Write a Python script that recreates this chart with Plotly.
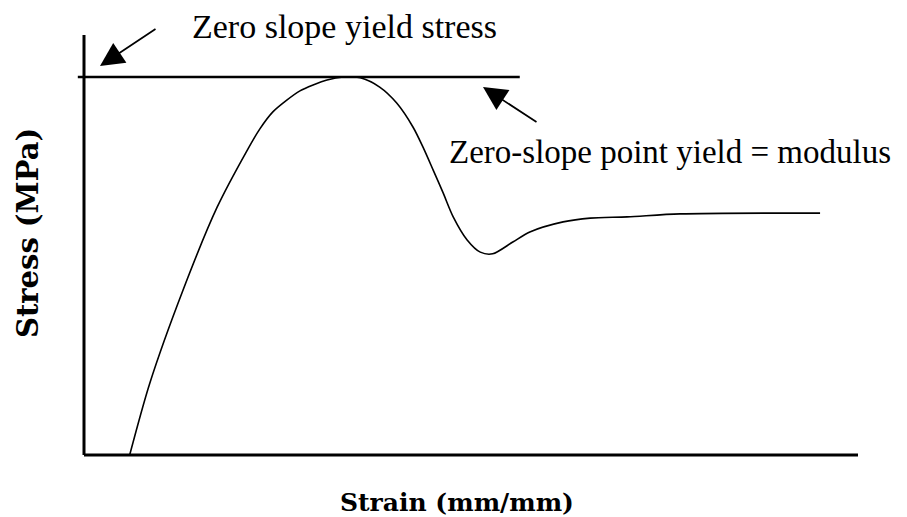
import plotly.graph_objects as go

# ---- data (arbitrary units, schematic stress-strain curve) ----
strain = [0.59, 0.85, 1.28, 1.72, 2.11, 2.27, 2.44, 2.62, 2.79, 2.96, 3.14, 3.35,
          3.57, 3.82, 4.04, 4.25, 4.38, 4.51, 4.64, 4.77, 4.95, 5.12, 5.28, 5.54,
          5.76, 6.19, 6.54, 7.02, 7.70, 9.51]
stress = [0.00, 1.71, 3.93, 5.90, 7.26, 7.76, 8.17, 8.45, 8.67, 8.81, 8.93, 9.00,
          8.98, 8.76, 8.38, 7.81, 7.33, 6.79, 6.24, 5.67, 5.12, 4.83, 4.79, 5.07,
          5.31, 5.55, 5.64, 5.67, 5.74, 5.76]

yield_stress = 9.0
yield_line_x = [-0.08, 5.63]
axis_max_x = 10.0
axis_max_y = 10.0

title_top = "Zero slope yield stress"
title_right = "Zero-slope point yield = modulus"
x_label = "Strain (mm/mm)"
y_label = "Stress (MPa)"

# the page body has an 8px margin; compensate so the picture lines up
OFF = 8
W, H = 907 - OFF, 517 - OFF
x0_px, px_per_x = 84.0 - OFF, 77.4
y0_px, px_per_y = 455.0 - OFF, 42.0
xr = [-0.2, 10.1]
yr = [-0.1, 10.1]
xdom = [(x0_px + xr[0] * px_per_x) / W, (x0_px + xr[1] * px_per_x) / W]
ydom = [(H - (y0_px - yr[0] * px_per_y)) / H, (H - (y0_px - yr[1] * px_per_y)) / H]

fig = go.Figure()
fig.add_trace(go.Scatter(x=strain, y=stress, mode="lines",
                         line=dict(color="black", width=1.6, shape="spline", smoothing=0.8),
                         hoverinfo="skip", showlegend=False))
fig.add_trace(go.Scatter(x=yield_line_x, y=[yield_stress, yield_stress], mode="lines",
                         line=dict(color="black", width=2.4),
                         hoverinfo="skip", showlegend=False))

# axes lines
fig.add_shape(type="line", x0=0, x1=axis_max_x, y0=0, y1=0, xref="x", yref="y",
              line=dict(color="black", width=3))
fig.add_shape(type="line", x0=0, x1=0, y0=0, y1=axis_max_y, xref="x", yref="y",
              line=dict(color="black", width=3))

serif = "Liberation Serif, Times New Roman, serif"
bold_serif = "DejaVu Serif, serif"


def px(x):
    return (x - OFF) / W


def py(y):
    return 1 - (y - OFF) / H


fig.add_annotation(text=title_top, x=px(190), y=py(26), xref="paper", yref="paper",
                   xanchor="left", yanchor="middle", showarrow=False,
                   font=dict(family=serif, size=34, color="black"))
fig.add_annotation(text=title_right, x=px(447), y=py(152), xref="paper", yref="paper",
                   xanchor="left", yanchor="middle", showarrow=False,
                   font=dict(family=serif, size=33, color="black"))
fig.add_annotation(text="<b>" + x_label + "</b>", x=px(457), y=py(502), xref="paper", yref="paper",
                   xanchor="center", yanchor="middle", showarrow=False,
                   font=dict(family=bold_serif, size=25, color="black"))
fig.add_annotation(text="<b>" + y_label + "</b>", x=px(28), y=py(233), xref="paper", yref="paper",
                   xanchor="center", yanchor="middle", showarrow=False, textangle=-90,
                   font=dict(family=bold_serif, size=29, color="black"))

# arrows
fig.add_annotation(text="", x=(100 - OFF - x0_px) / px_per_x, y=(y0_px - (66 - OFF)) / px_per_y,
                   xref="x", yref="y", ax=57, ay=-38, showarrow=True,
                   arrowhead=2, arrowsize=2.8, arrowwidth=1.7, arrowcolor="black")
fig.add_annotation(text="", x=(483 - OFF - x0_px) / px_per_x, y=(y0_px - (87 - OFF)) / px_per_y,
                   xref="x", yref="y", ax=55, ay=36, showarrow=True,
                   arrowhead=2, arrowsize=2.8, arrowwidth=1.7, arrowcolor="black")

fig.update_layout(width=W, height=H, autosize=False,
                  margin=dict(l=0, r=0, t=0, b=0),
                  paper_bgcolor="white", plot_bgcolor="white",
                  xaxis=dict(range=xr, domain=xdom, visible=False, fixedrange=True),
                  yaxis=dict(range=yr, domain=ydom, visible=False, fixedrange=True))

fig.write_html("out.html")
